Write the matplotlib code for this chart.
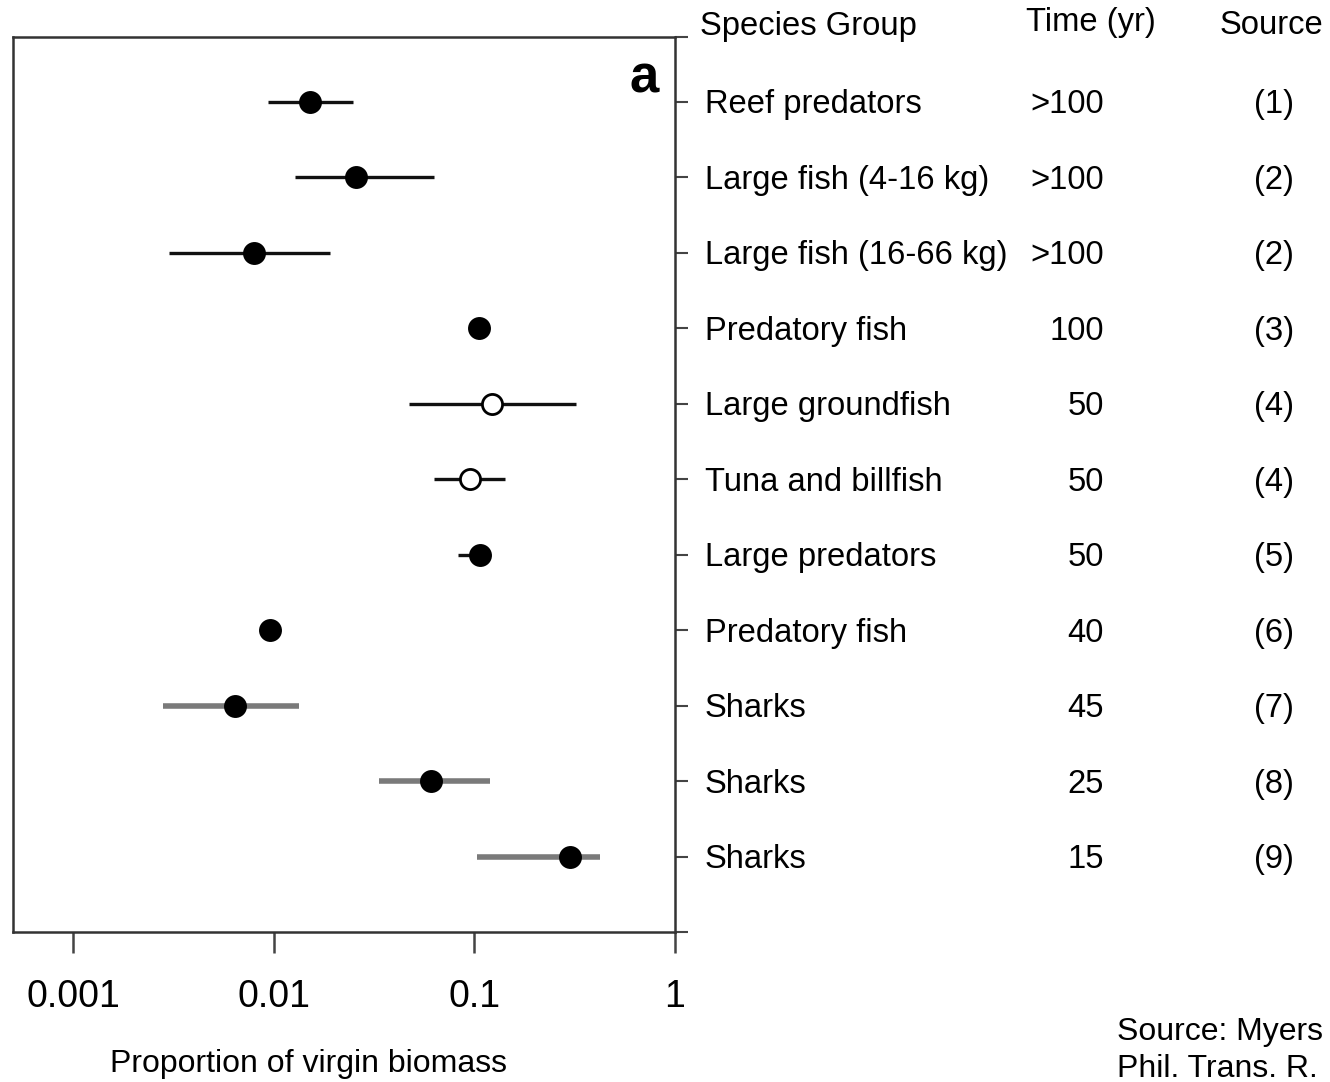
import matplotlib
matplotlib.use("Agg")
import matplotlib.pyplot as plt
import matplotlib.transforms as mtransforms
import numpy as np

groups = ["Reef predators", "Large fish (4-16 kg)", "Large fish (16-66 kg)",
          "Predatory fish", "Large groundfish", "Tuna and billfish",
          "Large predators", "Predatory fish", "Sharks", "Sharks", "Sharks"]
times = [">100", ">100", ">100", "100", "50", "50", "50", "40", "45", "25", "15"]
sources = ["(1)", "(2)", "(2)", "(3)", "(4)", "(4)", "(5)", "(6)", "(7)", "(8)", "(9)"]
estimate = [0.0151, 0.0256, 0.0080, 0.105, 0.123, 0.0955, 0.107, 0.0096, 0.0064, 0.0604, 0.300]
lower = [0.0093, 0.0127, 0.0030, np.nan, 0.0469, 0.0632, 0.0832, np.nan, 0.0028, 0.0333, 0.1035]
upper = [0.0247, 0.0632, 0.0190, np.nan, 0.322, 0.1426, 0.107, np.nan, 0.0133, 0.119, 0.424]
open_marker = [False, False, False, False, True, True, False, False, False, False, False]
gray_bar = [False, False, False, False, False, False, False, False, True, True, True]
xticks = [0.001, 0.01, 0.1, 1]
xtick_labels = ["0.001", "0.01", "0.1", "1"]

W, H = 1330, 1082
fig = plt.figure(figsize=(W / 100, H / 100), dpi=100)
fig.patch.set_facecolor("white")
FONT = ["Liberation Sans Narrow", "Liberation Sans", "DejaVu Sans"]
REG = ["Liberation Sans", "DejaVu Sans"]
plt.rcParams["font.family"] = FONT

ax = fig.add_axes([13 / W, 1 - 932 / H, (675 - 13) / W, (932 - 37) / H])
ax.set_xscale("log")
ax.set_xlim(0.0005, 1)
n = len(groups)
ypos = np.arange(n, 0, -1)  # top row = n
ax.set_ylim(0, n + 0.86)

for i in range(n):
    y = ypos[i]
    if not np.isnan(lower[i]):
        ax.plot([lower[i], upper[i]], [y, y],
                color="#7a7a7a" if gray_bar[i] else "#111111",
                lw=4.0 if gray_bar[i] else 2.4, solid_capstyle="butt", zorder=2)
    ax.plot(estimate[i], y, marker="o", ms=14.5,
            mfc="white" if open_marker[i] else "black",
            mec="black", mew=2.0, ls="none", zorder=3)

for s in ax.spines.values():
    s.set_linewidth(1.8)
    s.set_color("#333333")

ax.set_xticks(xticks)
ax.set_xticklabels(xtick_labels)
ax.xaxis.set_minor_locator(matplotlib.ticker.NullLocator())
ax.tick_params(axis="x", direction="out", length=15, width=1.8, color="#444444",
               labelsize=27, pad=19)
ax.yaxis.tick_right()
ax.set_yticks(list(np.arange(0, n + 1)) + [n + 0.86])
ax.set_yticklabels([])
ax.tick_params(axis="y", direction="out", length=9, width=1.5, color="#444444")
ax.set_xlabel("Proportion of virgin biomass", fontsize=23, labelpad=24, family=REG)
ax.xaxis.label.set_x((308 - 13) / (675 - 13))

ax.text(0.975, 0.982, "a", transform=ax.transAxes, ha="right", va="top",
        fontsize=38, fontweight="bold")

tr = mtransforms.blended_transform_factory(fig.transFigure, ax.transData)
tr = tr + mtransforms.ScaledTranslation(0, -3 / 100, fig.dpi_scale_trans)
for i in range(n):
    y = ypos[i]
    ax.text(705 / W, y, groups[i], transform=tr, ha="left", va="center", fontsize=23.6)
    ax.text(1104 / W, y, times[i], transform=tr, ha="right", va="center", fontsize=23.6)
    ax.text(1274 / W, y, sources[i], transform=tr, ha="center", va="center", fontsize=23.6)

fig.text(700 / W, 1 - 26 / H, "Species Group", ha="left", va="center", fontsize=23.6)
fig.text(1091 / W, 1 - 23 / H, "Time (yr)", ha="center", va="center", fontsize=23.6)
fig.text(1220 / W, 1 - 26 / H, "Source", ha="left", va="center", fontsize=23.6)

fig.text(1117 / W, 1 - 1032 / H, "Source: Myers", ha="left", va="center",
         fontsize=23, family=REG)
fig.text(1117 / W, 1 - 1069 / H, "Phil. Trans. R.", ha="left", va="center",
         fontsize=23, family=REG)

fig.savefig("out.png", dpi=100, facecolor="white")
